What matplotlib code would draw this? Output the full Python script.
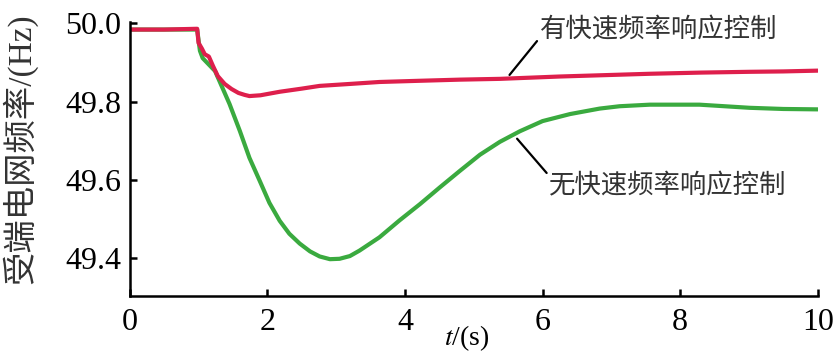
import matplotlib
matplotlib.use('Agg')
import matplotlib.pyplot as plt

# 有快速频率响应控制 (红色)
t_ctrl = [0, 0.5, 0.98, 1.0, 1.05, 1.09, 1.15, 1.21, 1.28, 1.38, 1.48, 1.58, 1.67,
          1.74, 1.9, 2.18, 2.5, 2.76, 3.2, 3.63, 4.2, 4.8, 5.38, 6.25, 7.0, 7.56,
          8.3, 9.0, 9.5, 10.0]
f_ctrl = [49.984, 49.984, 49.986, 49.95, 49.935, 49.921, 49.915, 49.891, 49.865,
          49.845, 49.832, 49.822, 49.817, 49.814, 49.816, 49.825, 49.833, 49.840,
          49.845, 49.850, 49.853, 49.856, 49.858, 49.864, 49.868, 49.871, 49.874,
          49.876, 49.877, 49.879]

# 无快速频率响应控制 (绿色)
t_noctrl = [0, 0.98, 1.02, 1.06, 1.24, 1.45, 1.6, 1.74, 1.89, 2.03, 2.18, 2.32,
            2.47, 2.62, 2.76, 2.91, 3.05, 3.2, 3.34, 3.63, 3.92, 4.22, 4.51, 4.8,
            5.09, 5.38, 5.67, 6.0, 6.4, 6.83, 7.12, 7.56, 8.28, 9.01, 9.5, 10.0]
f_noctrl = [49.984, 49.984, 49.93, 49.911, 49.878, 49.794, 49.725, 49.656, 49.597,
            49.541, 49.495, 49.462, 49.437, 49.417, 49.404, 49.397, 49.398, 49.405,
            49.419, 49.453, 49.496, 49.538, 49.581, 49.623, 49.664, 49.697, 49.724,
            49.750, 49.768, 49.782, 49.788, 49.792, 49.792, 49.784, 49.781, 49.780]

xticks = [0, 2, 4, 6, 8, 10]
yticks = [49.4, 49.6, 49.8, 50.0]

plt.rcParams['font.family'] = ['Liberation Serif', 'Noto Sans CJK SC', 'DejaVu Sans']
plt.rcParams['mathtext.fontset'] = 'stix'

fig = plt.figure(figsize=(8.37, 3.57), dpi=100)
ax = fig.add_axes([0.155, 0.171, 0.822, 0.767])

ax.plot(t_noctrl, f_noctrl, color='#3aaa3f', lw=3, solid_capstyle='round')
ax.plot(t_ctrl, f_ctrl, color='#de1f4c', lw=3, solid_capstyle='round')

ax.set_xlim(0, 10)
ax.set_ylim(49.303, 50.003)
ax.set_xticks(xticks)
ax.set_yticks(yticks)
ax.set_xticklabels([str(v) for v in xticks])
ax.set_yticklabels(['%.1f' % v for v in yticks])

for s in ['top', 'right']:
    ax.spines[s].set_visible(False)
for s in ['left', 'bottom']:
    ax.spines[s].set_linewidth(1.8)
ax.tick_params(direction='in', length=5, width=1.8, labelsize=23)
ax.tick_params(axis='x', pad=9)
ax.tick_params(axis='y', pad=6)

ax.set_ylabel('受端电网频率/(Hz)', fontsize=24, color='#333333')
ax.yaxis.set_label_coords(-0.135, 0.536)
ax.set_xlabel('$t$/(s)', fontsize=20)
ax.xaxis.set_label_coords(0.49, -0.1)

cjk = ['Noto Sans CJK SC', 'DejaVu Sans']
ax.annotate('有快速频率响应控制', xy=(5.52, 49.868), xytext=(5.96, 49.984),
            fontsize=19, family=cjk, color='#333333', va='center', ha='left',
            arrowprops=dict(arrowstyle='-', color='black', lw=1.6,
                            shrinkA=0, shrinkB=0, relpos=(0, 0.2)))
ax.annotate('无快速频率响应控制', xy=(5.63, 49.705), xytext=(6.1, 49.585),
            fontsize=19, family=cjk, color='#333333', va='center', ha='left',
            arrowprops=dict(arrowstyle='-', color='black', lw=1.6,
                            shrinkA=0, shrinkB=0, relpos=(0, 0.85)))

fig.savefig('out.png', dpi=100)
